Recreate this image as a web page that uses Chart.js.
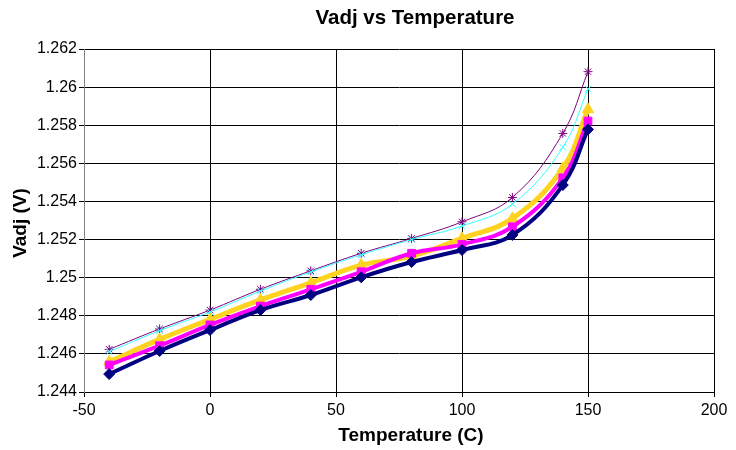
<!DOCTYPE html>
<html><head><meta charset="utf-8">
<script src="https://cdn.jsdelivr.net/npm/chart.js@4/dist/chart.umd.min.js"></script>
<style>html,body{margin:0;padding:0;background:#fff}#wrap{width:736px;height:450px}</style>
</head><body><div id="wrap"><canvas id="c" width="736" height="450"></canvas></div>
<script>
const chartTitle = 'Vadj vs Temperature';
const xAxisTitle = 'Temperature (C)';
const yAxisTitle = 'Vadj (V)';
const temperatures = [-40, -20, 0, 20, 40, 60, 80, 100, 120, 140, 150];
const seriesNavy    = [1.24494, 1.24615, 1.24725, 1.24830, 1.24909, 1.25002, 1.25082, 1.25145, 1.25224, 1.25486, 1.25778];
const seriesMagenta = [1.24542, 1.24643, 1.24752, 1.24851, 1.24939, 1.25031, 1.25128, 1.25175, 1.25267, 1.25524, 1.25822];
const seriesYellow  = [1.24559, 1.24676, 1.24781, 1.24883, 1.24973, 1.25066, 1.25113, 1.25206, 1.25311, 1.25574, 1.25883];
const seriesCyan    = [1.24612, 1.24722, 1.24820, 1.24930, 1.25030, 1.25120, 1.25200, 1.25271, 1.25386, 1.25684, 1.25990];
const seriesPurple  = [1.24624, 1.24731, 1.24830, 1.24939, 1.25036, 1.25128, 1.25206, 1.25293, 1.25421, 1.25757, 1.26081];
const xTicks = [-50, 0, 50, 100, 150, 200];
const yTicks = [1.244, 1.246, 1.248, 1.25, 1.252, 1.254, 1.256, 1.258, 1.26, 1.262];

const FONT = 'Liberation Sans, Arial, sans-serif';
function pts(arr){ return temperatures.map((t,i)=>({x:t,y:arr[i]})); }
function ds(arr, color, width, style, radius){
  return {data: pts(arr), showLine: true, borderColor: color, backgroundColor: color, borderWidth: width,
    pointStyle: style, pointRadius: radius, pointHoverRadius: radius, pointBorderColor: color,
    pointBackgroundColor: color, pointBorderWidth: 1, tension: 0.4, fill: false};
}
const titlePlugin = {
  id: 'titles',
  afterDraw(chart){
    const ctx = chart.ctx;
    ctx.save();
    ctx.fillStyle = '#000';
    ctx.textAlign = 'center';
    ctx.textBaseline = 'middle';
    ctx.font = 'bold 20.5px ' + FONT;
    ctx.fillText(chartTitle, 415, 18);
    ctx.font = 'bold 19px ' + FONT;
    ctx.fillText(xAxisTitle, 411, 436);
    ctx.translate(21, 223);
    ctx.rotate(-Math.PI / 2);
    ctx.fillText(yAxisTitle, 0, 0);
    ctx.restore();
  }
};
new Chart(document.getElementById('c'), {
  type: 'scatter',
  data: { datasets: [
    ds(seriesNavy, '#000080', 4, 'rectRot', 5.5),
    ds(seriesMagenta, '#FF00FF', 4, 'rect', 5.5),
    ds(seriesYellow, '#FFD320', 5, 'triangle', 6.5),
    ds(seriesCyan, '#33FFFF', 1, 'crossRot', 4.5),
    ds(seriesPurple, '#800080', 1, 'star', 4.5)
  ] },
  plugins: [titlePlugin],
  options: {
    responsive: false, animation: false, devicePixelRatio: 1,
    layout: { padding: { left: 0, right: 22, top: 49, bottom: 0 } },
    plugins: { legend: { display: false }, tooltip: { enabled: false }, title: { display: false } },
    scales: {
      x: { type: 'linear', min: -50, max: 200,
        afterBuildTicks: s => { s.ticks = xTicks.map(v=>({value:v})); },
        afterFit: s => { s.height = 58; },
        ticks: { color: '#000', font: { family: FONT, size: 16 }, padding: 4, maxRotation: 0 },
        grid: { color: '#000', lineWidth: 1, tickLength: 5 },
        border: { color: '#000', width: 1 },
        title: { display: false }
      },
      y: { type: 'linear', min: 1.244, max: 1.262,
        afterBuildTicks: s => { s.ticks = yTicks.map(v=>({value:v})); },
        afterFit: s => { s.width = 84; },
        ticks: { color: '#000', font: { family: FONT, size: 16 }, padding: 2,
          callback: v => String(Number(v.toFixed(3))) },
        grid: { color: '#000', lineWidth: 1, tickLength: 5 },
        border: { color: '#808080', width: 1 },
        title: { display: false }
      }
    }
  }
});
</script></body></html>
